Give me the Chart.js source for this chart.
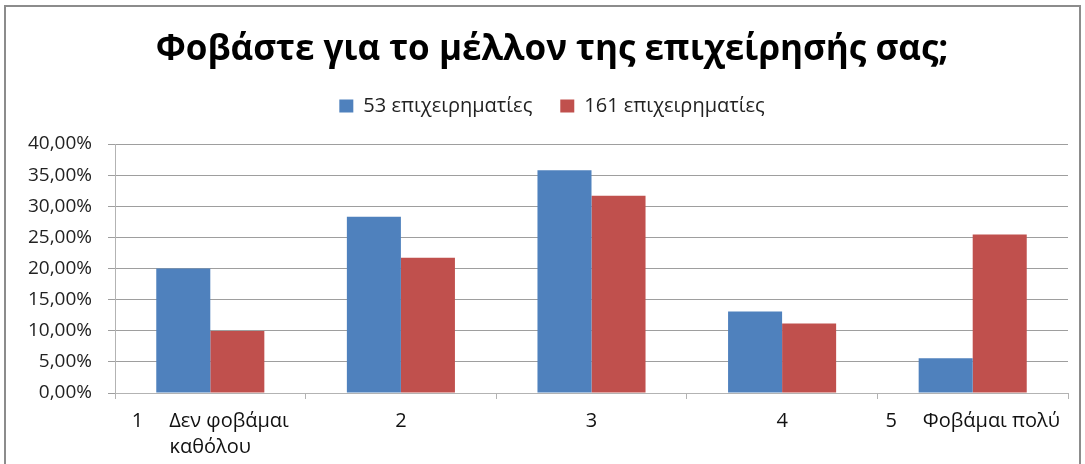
<!DOCTYPE html>
<html>
<head>
<meta charset="utf-8">
<script src="https://cdn.jsdelivr.net/npm/chart.js@4"></script>
<style>
  html, body { margin: 0; padding: 0; background: #fff; }
  #wrap { position: relative; width: 1085px; height: 464px; overflow: hidden; }
  #frame {
    position: absolute; left: 4px; top: 5px; width: 1077px; height: 480px;
    border: 2px solid #8c8c8c; box-sizing: border-box;
  }
  canvas { position: absolute; left: 0; top: 0; }
</style>
</head>
<body>
<div id="wrap">
  <div id="frame"></div>
  <canvas id="fearChart" width="1085" height="464"></canvas>
</div>
<script>
// answers on a 1-5 scale, share of respondents in each group
const categories = [["1     Δεν φοβάμαι", "καθόλου"], "2", "3", "4", "5     Φοβάμαι πολύ"];
const groupA = [20.0, 28.3, 35.8, 13.1, 5.6];
const groupB = [9.94, 21.74, 31.68, 11.18, 25.47];
const seriesNames = ["53 επιχειρηματίες", "161 επιχειρηματίες"];
const yTicks = [0, 5, 10, 15, 20, 25, 30, 35, 40];

const FONT = "'Open Sans', 'Noto Sans', sans-serif";
const HEADER_SHIFT = 36;

function pct(v) {
  return v.toFixed(2).replace(".", ",") + "%";
}

// extra room between the legend and the plot
const legendGap = {
  id: "legendGap",
  beforeInit(chart) {
    const fit = chart.legend.fit;
    chart.legend.fit = function () {
      fit.call(this);
      this.height += 18;
    };
  },
  // centre title and legend a bit to the right of the canvas middle
  afterLayout(chart) {
    chart.titleBlock.left += HEADER_SHIFT;
    chart.legend.left += HEADER_SHIFT;
  }
};

const ctx = document.getElementById("fearChart");

new Chart(ctx, {
  type: "bar",
  data: {
    labels: categories,
    datasets: [
      {
        label: seriesNames[0],
        data: groupA,
        backgroundColor: "#4f81bd"
      },
      {
        label: seriesNames[1],
        data: groupB,
        backgroundColor: "#c0504d"
      }
    ]
  },
  options: {
    responsive: false,
    animation: false,
    layout: {
      padding: { left: 0, right: 17, top: 0, bottom: 0 }
    },
    datasets: {
      bar: {
        barPercentage: 1.0,
        categoryPercentage: 0.567
      }
    },
    plugins: {
      title: {
        display: true,
        text: "Φοβάστε για το μέλλον της επιχείρησής σας;",
        color: "#000",
        font: { family: FONT, size: 35, weight: "bold", lineHeight: 1.0 },
        padding: { top: 33, bottom: 0 }
      },
      legend: {
        position: "top",
        labels: {
          color: "#222",
          font: { family: FONT, size: 20 },
          boxWidth: 14,
          boxHeight: 13,
          padding: 28
        }
      },
      tooltip: { enabled: false }
    },
    scales: {
      x: {
        grid: {
          display: true,
          drawOnChartArea: false,
          drawTicks: true,
          tickLength: 6,
          color: "#b3b3b3",
          offset: true
        },
        border: { color: "#b3b3b3", width: 1 },
        ticks: {
          color: "#111",
          font: { family: FONT, size: 20, lineHeight: 1.3 },
          padding: 9,
          maxRotation: 0
        },
        afterFit: (scale) => { scale.height = 71; }
      },
      y: {
        min: 0,
        max: 40,
        afterBuildTicks: (scale) => {
          scale.ticks = yTicks.map((v) => ({ value: v }));
        },
        grid: {
          color: "#9e9e9e",
          tickLength: 7
        },
        border: { color: "#b3b3b3", width: 1 },
        ticks: {
          color: "#222",
          font: { family: FONT, size: 19 },
          padding: 16,
          callback: (v) => pct(v)
        },
        afterFit: (scale) => { scale.width = 115; }
      }
    }
  },
  plugins: [legendGap]
});
</script>
</body>
</html>
